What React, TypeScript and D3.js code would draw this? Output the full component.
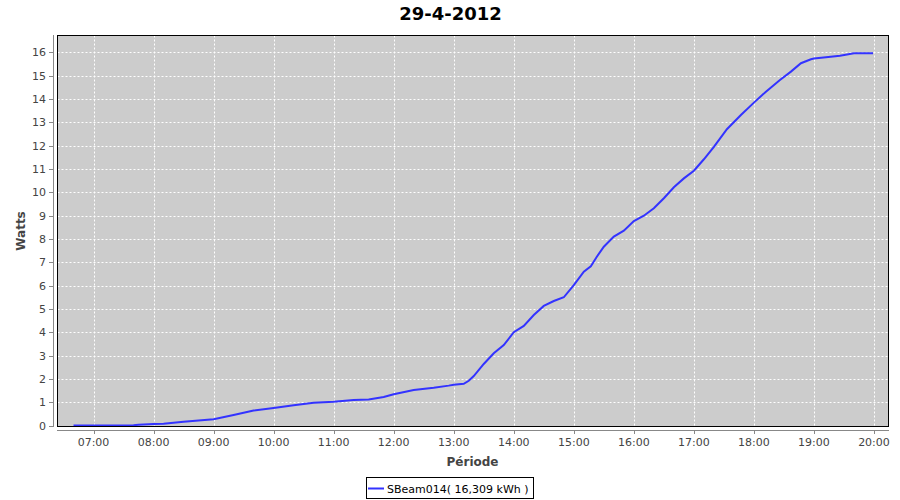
import React from "react";
import * as d3 from "d3";

const title = "29-4-2012";
const yLabel = "Watts";
const xLabel = "Période";
const seriesName = "SBeam014( 16,309 kWh )";

const times = [
  "06:40", "07:00", "07:20", "07:40", "07:45", "08:00", "08:10", "08:20", "08:30", "08:45",
  "09:00", "09:20", "09:40", "10:00", "10:20", "10:40", "11:00", "11:20", "11:35", "11:50",
  "12:00", "12:20", "12:40", "12:55", "13:00", "13:10", "13:15", "13:20", "13:30", "13:40",
  "13:50", "14:00", "14:10", "14:20", "14:30", "14:40", "14:50", "15:00", "15:10", "15:17",
  "15:23", "15:30", "15:40", "15:50", "16:00", "16:10", "16:20", "16:30", "16:40", "16:50",
  "17:00", "17:10", "17:20", "17:33", "17:47", "18:00", "18:12", "18:26", "18:37", "18:47",
  "18:57", "19:00", "19:12", "19:26", "19:40", "19:59",
];
const watts = [
  0, 0, 0, 0.01, 0.03, 0.06, 0.08, 0.12, 0.16, 0.21,
  0.27, 0.45, 0.64, 0.75, 0.87, 0.98, 1.02, 1.09, 1.12, 1.22,
  1.34, 1.52, 1.62, 1.71, 1.75, 1.79, 1.92, 2.12, 2.64, 3.1,
  3.45, 4.0, 4.27, 4.74, 5.13, 5.34, 5.5, 6.02, 6.6, 6.83,
  7.24, 7.67, 8.1, 8.36, 8.77, 9.0, 9.32, 9.75, 10.22, 10.6,
  10.93, 11.42, 11.95, 12.71, 13.32, 13.85, 14.32, 14.82, 15.18, 15.54,
  15.71, 15.74, 15.8, 15.86, 15.97, 15.97,
];
const yTicks = [0, 1, 2, 3, 4, 5, 6, 7, 8, 9, 10, 11, 12, 13, 14, 15, 16];
const xTickHours = ["07:00", "08:00", "09:00", "10:00", "11:00", "12:00", "13:00", "14:00", "15:00", "16:00", "17:00", "18:00", "19:00", "20:00"];

const parse = (s: string) => {
  const [h, m] = s.split(":").map(Number);
  return new Date(2012, 3, 29, h, m, 0);
};

export default function App() {
  const W = 900, H = 500;
  const left = 57.5, right = 888.5, top = 35.5, bottom = 426.5;
  const x = d3.scaleTime()
    .domain([new Date(2012, 3, 29, 6, 24, 0), new Date(2012, 3, 29, 20, 14, 30)])
    .range([left, right]);
  const y = d3.scaleLinear().domain([0, 16.75]).range([425.5, 35]);
  const data = times.map((t, i) => ({ t: parse(t), v: watts[i] }));
  const line = d3.line<{ t: Date; v: number }>().x(d => x(d.t)).y(d => y(d.v));
  const fmt = d3.timeFormat("%H:%M");
  const xTicks = xTickHours.map(parse);
  const font = "'DejaVu Sans', sans-serif";
  const tickColor = "#444444";
  const axisColor = "#888888";

  return (
    <svg width={W} height={H} style={{ position: "absolute", left: 0, top: 0, background: "#fff" }}>
      <defs>
        <clipPath id="plotclip">
          <rect x={left} y={top} width={right - left} height={bottom - top} />
        </clipPath>
      </defs>
      <rect x={0} y={0} width={W} height={H} fill="#ffffff" />
      <text x={450.5} y={19.5} textAnchor="middle" fontFamily={font} fontWeight="bold" fontSize={18} fill="#000">{title}</text>

      <rect x={left} y={top} width={right - left} height={bottom - top} fill="#cccccc" />
      {xTicks.map((t, i) => (
        <line key={"gx" + i} x1={Math.round(x(t)) + 0.5} x2={Math.round(x(t)) + 0.5} y1={top} y2={bottom}
          stroke="#ffffff" strokeWidth={1} strokeDasharray="2,2" />
      ))}
      {yTicks.map((v, i) => (
        <line key={"gy" + i} x1={left} x2={right} y1={Math.round(y(v)) + 0.5} y2={Math.round(y(v)) + 0.5}
          stroke="#ffffff" strokeWidth={1} strokeDasharray="2,2" />
      ))}
      <path d={line(data) || ""} fill="none" stroke="#3333ff" strokeWidth={2} clipPath="url(#plotclip)" />
      <rect x={left} y={top} width={right - left} height={bottom - top} fill="none" stroke="#000" strokeWidth={1} />

      {/* Y axis */}
      <line x1={53.5} x2={53.5} y1={35} y2={427} stroke={axisColor} strokeWidth={1} />
      {yTicks.map((v, i) => (
        <g key={"ty" + i}>
          <line x1={49} x2={53.5} y1={Math.round(y(v)) + 0.5} y2={Math.round(y(v)) + 0.5} stroke={axisColor} />
          <text x={46} y={y(v) + 4} textAnchor="end" fontFamily={font} fontSize={11} fill={tickColor}>{v}</text>
        </g>
      ))}
      <text transform={`translate(25,231) rotate(-90)`} textAnchor="middle" fontFamily={font} fontWeight="bold" fontSize={12} fill={tickColor}>{yLabel}</text>

      {/* X axis */}
      <line x1={57} x2={889} y1={430.5} y2={430.5} stroke={axisColor} strokeWidth={1} />
      {xTicks.map((t, i) => (
        <g key={"tx" + i}>
          <line x1={Math.round(x(t)) + 0.5} x2={Math.round(x(t)) + 0.5} y1={430.5} y2={434} stroke={axisColor} />
          <text x={x(t)} y={446} textAnchor="middle" fontFamily={font} fontSize={11} fill={tickColor}>{fmt(t)}</text>
        </g>
      ))}
      <text x={472.5} y={465.5} textAnchor="middle" fontFamily={font} fontWeight="bold" fontSize={12} fill={tickColor}>{xLabel}</text>

      {/* Legend */}
      <rect x={366.5} y={477.5} width={167} height={21} fill="#ffffff" stroke="#000" strokeWidth={1} />
      <line x1={368} x2={384} y1={488.5} y2={488.5} stroke="#3333ff" strokeWidth={2} />
      <text x={387} y={493} fontFamily={font} fontSize={11} fill="#000">{seriesName}</text>
    </svg>
  );
}
